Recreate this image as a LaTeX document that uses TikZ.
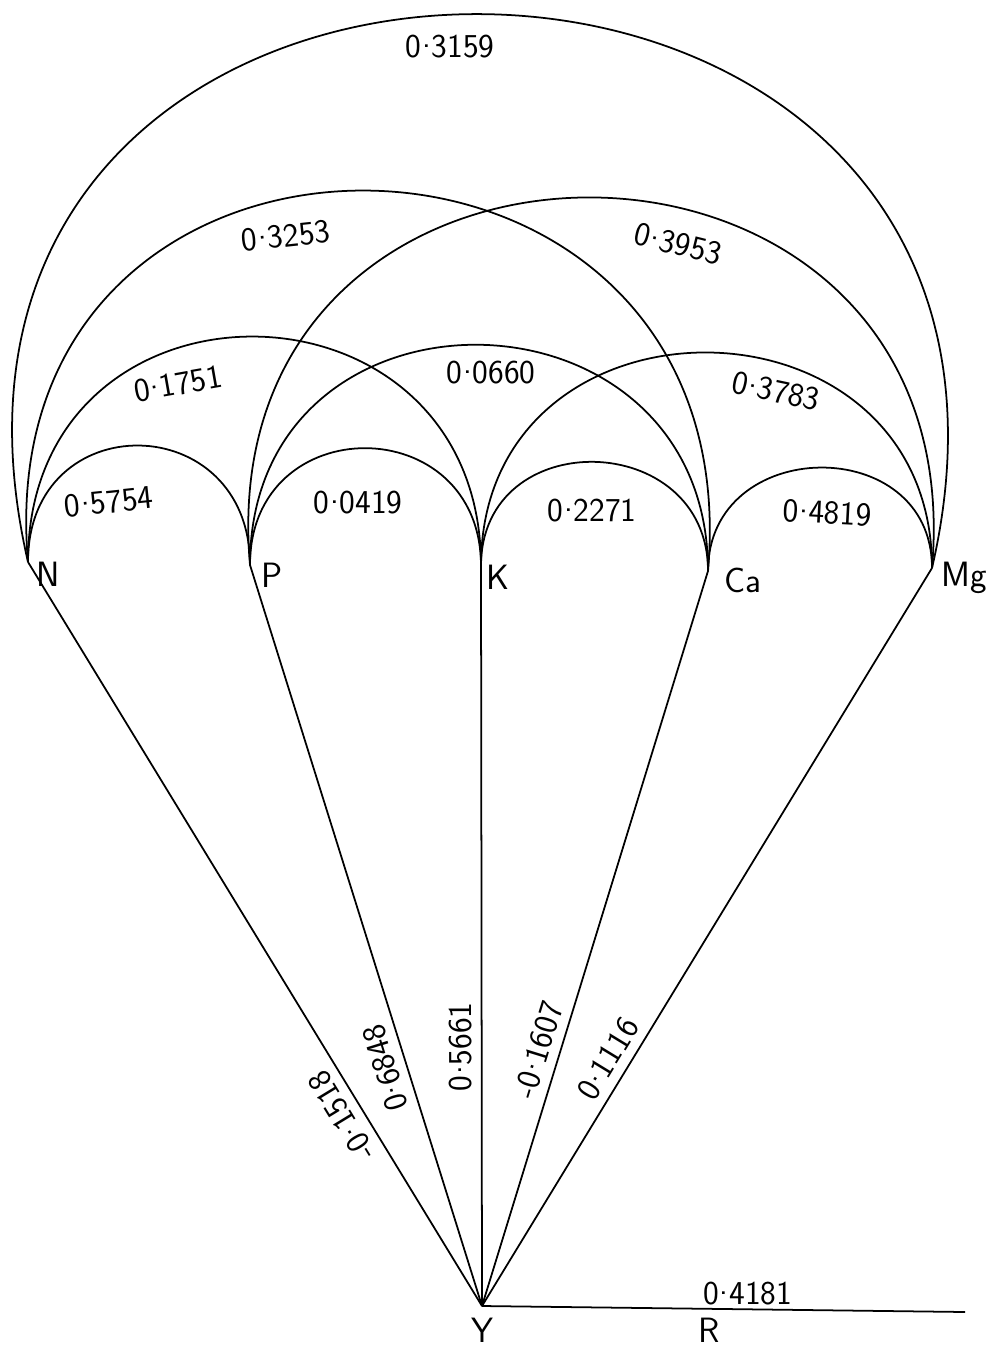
\documentclass[tikz,border=0pt]{standalone}
\usepackage{fontspec}
\usetikzlibrary{positioning}

\newcommand{\pdot}{\kern0.5pt\raisebox{0.3em}{.}\kern0.5pt}

\tikzset{
  val/.style={font=\sffamily\fontsize{19}{21}\selectfont,inner sep=2pt},
  elem/.style={font=\sffamily\fontsize{20}{22}\selectfont,inner sep=1pt},
  lnk/.style={line width=1pt},
  onlink/.style={val,sloped,allow upside down,above=3pt},
}

\begin{document}
\begin{tikzpicture}[x=0.2mm,y=-0.2mm]
  \useasboundingbox (0,0) rectangle (990,1353);
  % the five nutrients and the yield
  \coordinate (N) at (28,562);
  \coordinate (P) at (250,565);
  \coordinate (K) at (481,566);
  \coordinate (Ca) at (708,571);
  \coordinate (Mg) at (932,568);
  \coordinate (Y) at (482,1306);
  \coordinate (Rend) at (965,1312);
  \node[elem] (Nl) at (48,574) {N};
  \node[elem] (Pl) at (272,575) {P};
  \node[elem] (Kl) at (498,577) {K};
  \node[elem] (Cal) at (743,580) {Ca};
  \node[elem] (Mgl) at (964,578) {Mg};
  \node[elem] (Yl) at (482,1330) {Y};
  % arcs between the nutrients
  \draw[lnk] (N) to[out=90,in=90,looseness=1.81] (P);
  \draw[lnk] (P) to[out=90,in=90,looseness=1.73] (K);
  \draw[lnk] (K) to[out=90,in=90,looseness=1.60] (Ca);
  \draw[lnk] (Ca) to[out=90,in=90,looseness=1.55] (Mg);
  \draw[lnk] (N) to[out=90,in=90,looseness=1.71] (K);
  \draw[lnk] (P) to[out=90,in=90,looseness=1.66] (Ca);
  \draw[lnk] (K) to[out=90,in=90,looseness=1.62] (Mg);
  \draw[lnk] (N) to[out=95,in=85,looseness=1.89] (Ca);
  \draw[lnk] (P) to[out=95,in=85,looseness=1.85] (Mg);
  \draw[lnk] (N) to[out=103,in=77,looseness=2.13] (Mg);
  \node[val] (vNMg) at (450,47) {0\pdot3159};
  \node[val,rotate=6] (vNCa) at (286,236) {0\pdot3253};
  \node[val,rotate=-14] (vPMg) at (678,244) {0\pdot3953};
  \node[val,rotate=10] (vNK) at (178,384) {0\pdot1751};
  \node[val] (vPCa) at (491,373) {0\pdot0660};
  \node[val,rotate=-12] (vKMg) at (776,391) {0\pdot3783};
  \node[val,rotate=6] (vNP) at (109,502) {0\pdot5754};
  \node[val] (vPK) at (358,503) {0\pdot0419};
  \node[val] (vKCa) at (592,511) {0\pdot2271};
  \node[val,rotate=-3] (vCaMg) at (827,513) {0\pdot4819};
  % links to the yield
  \draw[lnk] (Y) -- node[onlink,pos=0.27] (vYN) {-0\pdot1518} (N);
  \draw[lnk] (Y) -- node[onlink,pos=0.33] (vYP) {0\pdot6848} (P);
  \draw[lnk] (Y) -- node[onlink,pos=0.35] (vYK) {0\pdot5661} (K);
  \draw[lnk] (Y) -- node[onlink,pos=0.34] (vYCa) {-0\pdot1607} (Ca);
  \draw[lnk] (Y) -- node[onlink,pos=0.32] (vYMg) {0\pdot1116} (Mg);
  \draw[lnk] (Y) -- node[val,above,pos=0.55] (vR) {0\pdot4181}
    node[elem,below=4pt,pos=0.47] (Rl) {R} (Rend);
\end{tikzpicture}
\end{document}
